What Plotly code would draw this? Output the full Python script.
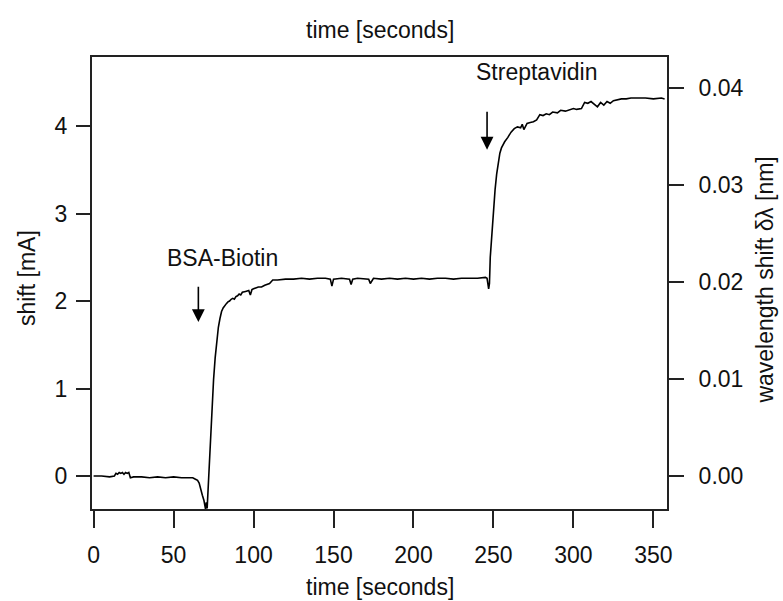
import plotly.graph_objects as go

# ---- data ----
time_s = [0, 5, 10, 13, 14, 15, 16, 17, 18, 19, 20, 21, 22, 23, 25, 30, 35, 40, 45, 50, 55, 58,
          60, 62, 64, 65, 66, 67, 68, 69, 69.5, 70, 70.5, 71, 72, 73, 74, 75, 76, 77, 78, 79, 80,
          81, 82, 83, 84, 85, 86, 87, 88, 89, 90, 91, 92, 93, 95, 97, 98, 99, 100, 103, 105,
          107, 110, 112, 115, 120, 125, 130, 135, 140, 145, 148, 149, 150, 155, 160, 161, 162,
          165, 170, 172, 173, 175, 180, 185, 190, 195, 200, 205, 210, 215, 220, 225, 230, 235,
          240, 245, 246, 247, 247.5, 248, 249, 250, 251, 252, 253, 254, 255, 257, 259, 261, 263,
          265, 267, 268, 269, 271, 273, 275, 277, 279, 281, 283, 285, 287, 290, 292, 295, 297,
          300, 302, 305, 307, 309, 311, 313, 315, 317, 319, 321, 323, 325, 328, 330, 333, 336,
          340, 345, 350, 355, 357]
shift_mA = [0.0, 0.0, -0.01, 0.0, 0.03, 0.02, 0.04, 0.03, 0.04, 0.02, 0.04, 0.03, 0.04, -0.02,
            -0.01, -0.01, -0.02, -0.01, -0.02, -0.01, -0.02, -0.02, -0.02, -0.02, -0.04, -0.05,
            -0.08, -0.16, -0.22, -0.28, -0.33, -0.38, -0.3, -0.37, 0.0, 0.4, 0.8, 1.1, 1.35,
            1.55, 1.7, 1.8, 1.88, 1.92, 1.95, 1.97, 1.99, 2.0, 2.02, 2.03, 2.02, 2.05, 2.06,
            2.08, 2.07, 2.1, 2.11, 2.12, 2.07, 2.13, 2.14, 2.16, 2.16, 2.18, 2.2, 2.24, 2.24,
            2.25, 2.25, 2.26, 2.25, 2.26, 2.26, 2.25, 2.17, 2.25, 2.26, 2.25, 2.19, 2.25, 2.26,
            2.25, 2.25, 2.2, 2.26, 2.25, 2.26, 2.25, 2.26, 2.25, 2.26, 2.25, 2.26, 2.26, 2.25,
            2.26, 2.26, 2.26, 2.27, 2.26, 2.14, 2.2, 2.5, 2.8, 3.05, 3.27, 3.45, 3.58, 3.69,
            3.75, 3.82, 3.87, 3.93, 3.97, 3.99, 3.98, 4.02, 3.96, 4.03, 4.04, 4.05, 4.07, 4.13,
            4.12, 4.14, 4.13, 4.16, 4.15, 4.18, 4.17, 4.18, 4.2, 4.19, 4.2, 4.27, 4.26, 4.28,
            4.25, 4.22, 4.27, 4.24, 4.28, 4.26, 4.29, 4.3, 4.31, 4.31, 4.32, 4.32, 4.32, 4.31,
            4.32, 4.31]

x_ticks = [0, 50, 100, 150, 200, 250, 300, 350]
y_left_ticks = [0, 1, 2, 3, 4]
y_right_ticks = [0.00, 0.01, 0.02, 0.03, 0.04]

nm_per_mA = 0.00902  # right-axis scale relative to left axis
x_range = [-1.0, 358.5]
y_left_range = [-0.377, 4.789]
y_right_range = [y_left_range[0] * nm_per_mA, y_left_range[1] * nm_per_mA]

FONT = "Liberation Sans, Arial, sans-serif"
FS = 23
AX = "#222222"

fig = go.Figure()
fig.add_trace(go.Scatter(x=time_s, y=shift_mA, mode="lines",
                         line=dict(color="black", width=1.6), showlegend=False,
                         hoverinfo="x+y"))
# invisible companion trace so the right axis is rendered
fig.add_trace(go.Scatter(x=time_s, y=[v * nm_per_mA for v in shift_mA], mode="lines",
                         line=dict(color="rgba(0,0,0,0)", width=0), yaxis="y2",
                         showlegend=False, hoverinfo="skip"))

fig.update_layout(
    width=783, height=601,
    margin=dict(l=92, r=116, t=57, b=92),
    paper_bgcolor="white", plot_bgcolor="white",
    font=dict(family=FONT, size=FS, color="#111111"),
    xaxis=dict(range=x_range, tickvals=x_ticks, showgrid=False, zeroline=False,
               showline=True, linecolor=AX, linewidth=2, mirror=True,
               ticks="outside", ticklen=17, tickwidth=2, tickcolor=AX,
               ticklabelstandoff=7),
    yaxis=dict(range=y_left_range, tickvals=y_left_ticks, showgrid=False, zeroline=False,
               showline=True, linecolor=AX, linewidth=2,
               ticks="outside", ticklen=14, tickwidth=2, tickcolor=AX,
               ticklabelstandoff=4),
    yaxis2=dict(range=y_right_range, tickvals=y_right_ticks, tickformat=".2f",
                overlaying="y", side="right", showgrid=False, zeroline=False,
                showline=True, linecolor=AX, linewidth=2,
                ticks="outside", ticklen=15, tickwidth=2, tickcolor=AX,
                ticklabelstandoff=10),
)

ann = []
# axis titles
ann.append(dict(text="time [seconds]", xref="paper", yref="paper", x=0.501, y=1.0597,
                showarrow=False, xanchor="center", yanchor="middle"))
ann.append(dict(text="time [seconds]", xref="paper", yref="paper", x=0.501, y=-0.172,
                showarrow=False, xanchor="center", yanchor="middle"))
ann.append(dict(text="shift [mA]", xref="paper", yref="paper", x=-0.113, y=0.511,
                showarrow=False, textangle=-90, xanchor="center", yanchor="middle"))
ann.append(dict(text="wavelength shift δλ [nm]", xref="paper", yref="paper", x=1.17, y=0.507,
                showarrow=False, textangle=-90, xanchor="center", yanchor="middle"))
# event labels
ann.append(dict(text="BSA-Biotin", x=80.5, y=2.49, xref="x", yref="y", showarrow=False))
ann.append(dict(text="Streptavidin", x=277, y=4.62, xref="x", yref="y", showarrow=False))
# arrows
ann.append(dict(text="", x=65.5, y=1.76, ax=65.5, ay=2.18, xref="x", yref="y",
                axref="x", ayref="y", showarrow=True, arrowhead=2, arrowsize=1.6,
                arrowwidth=1.6, arrowcolor="black"))
ann.append(dict(text="", x=246, y=3.73, ax=246, ay=4.18, xref="x", yref="y",
                axref="x", ayref="y", showarrow=True, arrowhead=2, arrowsize=1.6,
                arrowwidth=1.6, arrowcolor="black"))
fig.update_layout(annotations=ann)

fig.write_html("out.html")
